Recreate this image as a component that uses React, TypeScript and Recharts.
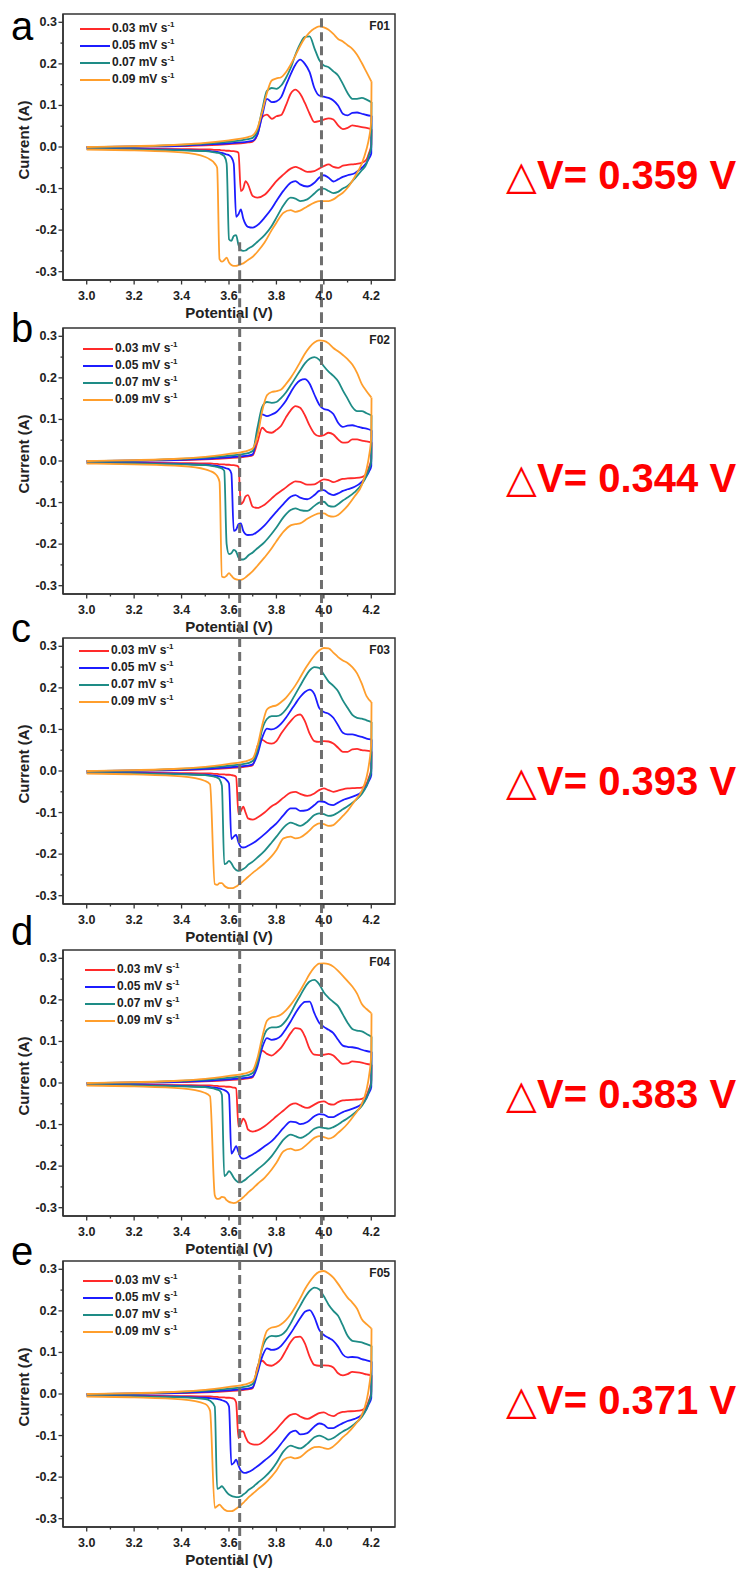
import React from 'react';
import { LineChart, Line, XAxis, YAxis, ReferenceLine, ReferenceArea } from 'recharts';

const FONT = '"Liberation Sans", Arial, sans-serif';
const AXIS = '#333';
const INK = '#222';

const RATES = ['0.03', '0.05', '0.07', '0.09'];
const COLORS = ['#ff2a2a', '#1c1cff', '#1e8c86', '#ff9e2c'];
const SAMPLES = ['F01', 'F02', 'F03', 'F04', 'F05'];
const LETTERS = ['a', 'b', 'c', 'd', 'e'];
const DELTA_V = ['0.359', '0.344', '0.393', '0.383', '0.371'];

const X_TICKS = [3.0, 3.1, 3.2, 3.3, 3.4, 3.5, 3.6, 3.7, 3.8, 3.9, 4.0, 4.1, 4.2];
const Y_TICKS = [-0.3, -0.25, -0.2, -0.15, -0.1, -0.05, 0, 0.05, 0.1, 0.15, 0.2, 0.25, 0.3];

// the two dashed guides (V)
const GUIDE_V = [3.645, 3.99];

// anodic sweep potentials, 3.0 -> 4.2 V
const ANODIC_V = [3.0, 3.2, 3.4, 3.5, 3.6, 3.65, 3.68, 3.7,
  3.72, 3.74, 3.76, 3.78, 3.8, 3.82, 3.84, 3.86, 3.88, 3.9, 3.92, 3.94, 3.96, 3.98, 4.0,
  4.02, 4.04, 4.06, 4.08, 4.1, 4.12, 4.14, 4.16, 4.18, 4.2];
// cathodic sweep potentials, stored low -> high; the last point closes the loop at 4.2 V
const CATHODIC_V = [3.0, 3.2, 3.4, 3.5,
  3.52, 3.54, 3.55, 3.56, 3.57, 3.58, 3.59, 3.6, 3.61, 3.62,
  3.63, 3.64, 3.65, 3.66, 3.67, 3.68, 3.7, 3.72, 3.75, 3.78,
  3.8, 3.83, 3.86, 3.88, 3.9, 3.93, 3.96, 3.98, 4.0, 4.02,
  4.04, 4.06, 4.08, 4.1, 4.13, 4.16, 4.18, 4.19, 4.2, 4.201];

// currents (A), one row per scan rate: 0.03 / 0.05 / 0.07 / 0.09
const F01_ANODIC = [
  [0, 0.001, 0.002, 0.004, 0.007, 0.009, 0.011, 0.013, 0.03, 0.072, 0.078, 0.068, 0.074, 0.077, 0.1, 0.128, 0.138, 0.128, 0.106, 0.08, 0.06, 0.062, 0.066, 0.069, 0.066, 0.052, 0.043, 0.046, 0.052, 0.05, 0.048, 0.046, 0.043],
  [0, 0.001, 0.003, 0.006, 0.009, 0.011, 0.013, 0.015, 0.03, 0.075, 0.116, 0.108, 0.11, 0.12, 0.148, 0.175, 0.198, 0.21, 0.2, 0.18, 0.142, 0.124, 0.121, 0.118, 0.112, 0.1, 0.08, 0.076, 0.082, 0.083, 0.08, 0.077, 0.075],
  [0, 0.001, 0.005, 0.008, 0.013, 0.016, 0.019, 0.022, 0.04, 0.09, 0.135, 0.142, 0.14, 0.148, 0.166, 0.19, 0.222, 0.248, 0.265, 0.266, 0.238, 0.21, 0.196, 0.192, 0.182, 0.172, 0.152, 0.13, 0.116, 0.116, 0.118, 0.114, 0.108],
  [0, 0.002, 0.006, 0.01, 0.016, 0.02, 0.024, 0.028, 0.045, 0.085, 0.13, 0.16, 0.165, 0.168, 0.18, 0.198, 0.22, 0.243, 0.262, 0.276, 0.285, 0.29, 0.288, 0.282, 0.272, 0.26, 0.254, 0.245, 0.236, 0.222, 0.202, 0.18, 0.158],
];
const F01_CATHODIC = [
  [-0.003, -0.004, -0.005, -0.006, -0.006, -0.007, -0.007, -0.007, -0.008, -0.008, -0.009, -0.009, -0.01, -0.01, -0.011, -0.014, -0.106, -0.1, -0.082, -0.09, -0.118, -0.122, -0.115, -0.096, -0.082, -0.066, -0.052, -0.048, -0.052, -0.06, -0.058, -0.052, -0.046, -0.042, -0.048, -0.05, -0.045, -0.043, -0.041, -0.038, -0.03, -0.015, 0.005, 0.043],
  [-0.004, -0.005, -0.007, -0.009, -0.01, -0.011, -0.012, -0.013, -0.014, -0.016, -0.018, -0.02, -0.025, -0.04, -0.168, -0.162, -0.15, -0.172, -0.186, -0.192, -0.194, -0.188, -0.17, -0.148, -0.13, -0.105, -0.086, -0.082, -0.09, -0.095, -0.086, -0.074, -0.068, -0.074, -0.083, -0.078, -0.072, -0.068, -0.063, -0.05, -0.038, -0.028, -0.015, 0.075],
  [-0.005, -0.006, -0.008, -0.01, -0.011, -0.013, -0.014, -0.015, -0.018, -0.022, -0.04, -0.222, -0.226, -0.214, -0.212, -0.236, -0.248, -0.25, -0.249, -0.245, -0.238, -0.228, -0.212, -0.19, -0.17, -0.14, -0.122, -0.124, -0.13, -0.126, -0.112, -0.102, -0.1, -0.106, -0.111, -0.108, -0.1, -0.094, -0.076, -0.056, -0.04, -0.02, 0.0, 0.108],
  [-0.006, -0.008, -0.013, -0.024, -0.03, -0.04, -0.05, -0.27, -0.276, -0.272, -0.266, -0.278, -0.284, -0.286, -0.286, -0.284, -0.282, -0.28, -0.276, -0.272, -0.264, -0.252, -0.23, -0.2, -0.182, -0.158, -0.152, -0.156, -0.153, -0.143, -0.134, -0.13, -0.13, -0.13, -0.126, -0.118, -0.11, -0.098, -0.072, -0.04, -0.005, 0.02, 0.066, 0.158],
];

const F02_ANODIC = [
  [0, 0.001, 0.002, 0.004, 0.007, 0.009, 0.011, 0.014, 0.045, 0.08, 0.07, 0.068, 0.075, 0.085, 0.105, 0.122, 0.132, 0.128, 0.11, 0.085, 0.066, 0.06, 0.062, 0.068, 0.064, 0.052, 0.044, 0.045, 0.052, 0.052, 0.049, 0.047, 0.045],
  [0, 0.001, 0.003, 0.005, 0.009, 0.011, 0.013, 0.016, 0.07, 0.112, 0.108, 0.112, 0.118, 0.13, 0.145, 0.165, 0.183, 0.194, 0.197, 0.186, 0.16, 0.136, 0.125, 0.122, 0.113, 0.092, 0.082, 0.085, 0.086, 0.083, 0.08, 0.078, 0.074],
  [0, 0.001, 0.005, 0.008, 0.013, 0.016, 0.019, 0.024, 0.08, 0.13, 0.142, 0.14, 0.142, 0.152, 0.165, 0.182, 0.2, 0.218, 0.235, 0.246, 0.25, 0.244, 0.228, 0.215, 0.205, 0.192, 0.17, 0.15, 0.13, 0.12, 0.12, 0.115, 0.11],
  [0, 0.002, 0.006, 0.01, 0.017, 0.021, 0.025, 0.03, 0.06, 0.12, 0.158, 0.166, 0.168, 0.172, 0.185, 0.2, 0.218, 0.238, 0.258, 0.274, 0.285, 0.29, 0.289, 0.283, 0.272, 0.264, 0.255, 0.245, 0.232, 0.212, 0.185, 0.168, 0.153],
];
const F02_CATHODIC = [
  [-0.003, -0.004, -0.005, -0.006, -0.006, -0.007, -0.007, -0.008, -0.008, -0.008, -0.009, -0.009, -0.01, -0.01, -0.011, -0.014, -0.104, -0.098, -0.085, -0.082, -0.11, -0.113, -0.105, -0.09, -0.08, -0.068, -0.055, -0.049, -0.05, -0.057, -0.056, -0.05, -0.044, -0.046, -0.051, -0.047, -0.043, -0.042, -0.041, -0.039, -0.03, -0.015, 0.005, 0.045],
  [-0.004, -0.005, -0.007, -0.009, -0.01, -0.011, -0.012, -0.013, -0.014, -0.016, -0.018, -0.02, -0.03, -0.168, -0.165, -0.152, -0.15, -0.168, -0.176, -0.178, -0.177, -0.17, -0.155, -0.135, -0.122, -0.103, -0.086, -0.082, -0.088, -0.092, -0.082, -0.072, -0.07, -0.078, -0.082, -0.078, -0.072, -0.068, -0.062, -0.05, -0.036, -0.026, -0.012, 0.074],
  [-0.005, -0.006, -0.008, -0.01, -0.011, -0.013, -0.014, -0.016, -0.018, -0.024, -0.2, -0.224, -0.222, -0.214, -0.218, -0.232, -0.237, -0.237, -0.234, -0.228, -0.22, -0.21, -0.195, -0.175, -0.16, -0.135, -0.118, -0.114, -0.118, -0.12, -0.108, -0.1, -0.098, -0.108, -0.11, -0.104, -0.095, -0.088, -0.075, -0.056, -0.036, -0.02, 0.0, 0.11],
  [-0.006, -0.008, -0.012, -0.02, -0.024, -0.03, -0.036, -0.05, -0.278, -0.28, -0.276, -0.27, -0.276, -0.282, -0.285, -0.286, -0.286, -0.284, -0.28, -0.275, -0.265, -0.252, -0.232, -0.21, -0.193, -0.17, -0.155, -0.152, -0.15, -0.139, -0.13, -0.126, -0.126, -0.132, -0.134, -0.13, -0.12, -0.108, -0.085, -0.058, -0.02, 0.01, 0.06, 0.153],
];

const F03_ANODIC = [
  [0, 0.001, 0.002, 0.004, 0.007, 0.009, 0.011, 0.014, 0.06, 0.075, 0.068, 0.066, 0.072, 0.09, 0.106, 0.12, 0.132, 0.136, 0.12, 0.09, 0.072, 0.07, 0.072, 0.071, 0.066, 0.056, 0.046, 0.046, 0.052, 0.053, 0.05, 0.049, 0.047],
  [0, 0.001, 0.003, 0.005, 0.009, 0.011, 0.013, 0.016, 0.04, 0.08, 0.102, 0.1, 0.104, 0.114, 0.128, 0.145, 0.162, 0.178, 0.19, 0.196, 0.185, 0.152, 0.142, 0.138, 0.128, 0.11, 0.092, 0.088, 0.088, 0.085, 0.082, 0.078, 0.076],
  [0, 0.001, 0.005, 0.008, 0.013, 0.016, 0.019, 0.024, 0.05, 0.1, 0.125, 0.132, 0.132, 0.136, 0.148, 0.165, 0.185, 0.205, 0.225, 0.242, 0.25, 0.248, 0.232, 0.215, 0.205, 0.192, 0.17, 0.152, 0.135, 0.128, 0.126, 0.122, 0.118],
  [0, 0.002, 0.006, 0.01, 0.017, 0.021, 0.025, 0.03, 0.06, 0.11, 0.148, 0.155, 0.158, 0.166, 0.176, 0.19, 0.206, 0.225, 0.245, 0.262, 0.278, 0.29, 0.296, 0.295, 0.285, 0.274, 0.266, 0.26, 0.25, 0.235, 0.21, 0.18, 0.166],
];
const F03_CATHODIC = [
  [-0.003, -0.004, -0.005, -0.006, -0.006, -0.007, -0.007, -0.008, -0.008, -0.008, -0.009, -0.009, -0.01, -0.011, -0.014, -0.104, -0.096, -0.086, -0.1, -0.114, -0.117, -0.112, -0.1, -0.085, -0.078, -0.064, -0.052, -0.05, -0.055, -0.06, -0.054, -0.046, -0.042, -0.046, -0.05, -0.047, -0.044, -0.042, -0.041, -0.04, -0.03, -0.015, 0.005, 0.047],
  [-0.004, -0.005, -0.007, -0.009, -0.01, -0.011, -0.012, -0.013, -0.015, -0.017, -0.022, -0.03, -0.164, -0.158, -0.154, -0.172, -0.182, -0.184, -0.183, -0.18, -0.174, -0.166, -0.152, -0.136, -0.126, -0.106, -0.09, -0.09, -0.096, -0.094, -0.082, -0.073, -0.074, -0.08, -0.082, -0.076, -0.07, -0.066, -0.06, -0.05, -0.036, -0.024, -0.01, 0.076],
  [-0.005, -0.006, -0.008, -0.01, -0.012, -0.014, -0.016, -0.02, -0.035, -0.224, -0.222, -0.216, -0.222, -0.232, -0.238, -0.24, -0.239, -0.236, -0.232, -0.226, -0.218, -0.208, -0.192, -0.172, -0.158, -0.136, -0.124, -0.128, -0.132, -0.122, -0.106, -0.102, -0.104, -0.108, -0.106, -0.1, -0.092, -0.085, -0.072, -0.055, -0.036, -0.02, 0.0, 0.118],
  [-0.006, -0.008, -0.013, -0.024, -0.032, -0.272, -0.274, -0.27, -0.27, -0.276, -0.28, -0.282, -0.282, -0.281, -0.278, -0.274, -0.27, -0.265, -0.26, -0.255, -0.245, -0.236, -0.222, -0.205, -0.19, -0.162, -0.158, -0.162, -0.16, -0.148, -0.132, -0.126, -0.128, -0.132, -0.13, -0.12, -0.108, -0.096, -0.072, -0.048, -0.015, 0.015, 0.07, 0.166],
];

const F04_ANODIC = [
  [0, 0.001, 0.002, 0.004, 0.007, 0.009, 0.011, 0.014, 0.055, 0.078, 0.07, 0.066, 0.074, 0.085, 0.102, 0.12, 0.132, 0.13, 0.112, 0.082, 0.068, 0.067, 0.068, 0.07, 0.066, 0.055, 0.046, 0.047, 0.052, 0.051, 0.049, 0.046, 0.044],
  [0, 0.001, 0.003, 0.005, 0.009, 0.011, 0.013, 0.016, 0.04, 0.085, 0.108, 0.104, 0.106, 0.114, 0.13, 0.148, 0.168, 0.185, 0.195, 0.196, 0.168, 0.145, 0.135, 0.128, 0.12, 0.104, 0.09, 0.087, 0.086, 0.084, 0.08, 0.077, 0.075],
  [0, 0.001, 0.005, 0.008, 0.013, 0.016, 0.019, 0.024, 0.05, 0.1, 0.128, 0.134, 0.134, 0.138, 0.15, 0.168, 0.19, 0.21, 0.23, 0.244, 0.248, 0.238, 0.218, 0.205, 0.195, 0.185, 0.165, 0.145, 0.13, 0.126, 0.124, 0.118, 0.112],
  [0, 0.002, 0.006, 0.01, 0.017, 0.021, 0.025, 0.03, 0.06, 0.11, 0.15, 0.158, 0.16, 0.165, 0.175, 0.188, 0.204, 0.222, 0.242, 0.262, 0.278, 0.287, 0.288, 0.286, 0.28, 0.27, 0.258, 0.245, 0.232, 0.215, 0.19, 0.178, 0.168],
];
const F04_CATHODIC = [
  [-0.003, -0.004, -0.005, -0.006, -0.006, -0.007, -0.007, -0.008, -0.008, -0.008, -0.009, -0.009, -0.01, -0.011, -0.013, -0.105, -0.098, -0.086, -0.094, -0.112, -0.117, -0.114, -0.104, -0.09, -0.08, -0.066, -0.052, -0.049, -0.054, -0.06, -0.052, -0.046, -0.044, -0.05, -0.052, -0.046, -0.042, -0.041, -0.04, -0.038, -0.03, -0.015, 0.005, 0.044],
  [-0.004, -0.005, -0.007, -0.009, -0.01, -0.011, -0.012, -0.013, -0.015, -0.017, -0.02, -0.028, -0.17, -0.162, -0.152, -0.166, -0.18, -0.182, -0.181, -0.178, -0.172, -0.165, -0.152, -0.14, -0.128, -0.108, -0.093, -0.094, -0.099, -0.094, -0.08, -0.075, -0.076, -0.082, -0.082, -0.076, -0.07, -0.066, -0.06, -0.05, -0.036, -0.024, -0.01, 0.075],
  [-0.005, -0.006, -0.008, -0.01, -0.012, -0.014, -0.016, -0.018, -0.028, -0.224, -0.22, -0.212, -0.218, -0.228, -0.235, -0.239, -0.239, -0.236, -0.232, -0.227, -0.218, -0.208, -0.194, -0.176, -0.16, -0.136, -0.124, -0.128, -0.132, -0.124, -0.11, -0.106, -0.108, -0.11, -0.106, -0.1, -0.092, -0.085, -0.072, -0.055, -0.036, -0.02, 0.0, 0.112],
  [-0.006, -0.008, -0.013, -0.024, -0.032, -0.27, -0.279, -0.278, -0.274, -0.275, -0.282, -0.286, -0.288, -0.289, -0.288, -0.284, -0.28, -0.275, -0.27, -0.264, -0.254, -0.243, -0.228, -0.208, -0.192, -0.164, -0.158, -0.162, -0.16, -0.147, -0.132, -0.128, -0.13, -0.134, -0.13, -0.12, -0.11, -0.098, -0.076, -0.05, -0.016, 0.015, 0.07, 0.168],
];

const F05_ANODIC = [
  [0, 0.001, 0.002, 0.004, 0.007, 0.009, 0.011, 0.014, 0.065, 0.08, 0.07, 0.068, 0.074, 0.085, 0.105, 0.125, 0.137, 0.138, 0.122, 0.09, 0.07, 0.068, 0.069, 0.068, 0.064, 0.05, 0.045, 0.048, 0.053, 0.052, 0.05, 0.047, 0.045],
  [0, 0.001, 0.003, 0.005, 0.009, 0.011, 0.013, 0.016, 0.05, 0.09, 0.11, 0.106, 0.108, 0.116, 0.13, 0.146, 0.164, 0.182, 0.198, 0.202, 0.185, 0.155, 0.142, 0.135, 0.128, 0.114, 0.095, 0.088, 0.089, 0.088, 0.084, 0.081, 0.078],
  [0, 0.001, 0.005, 0.008, 0.013, 0.016, 0.019, 0.024, 0.06, 0.11, 0.134, 0.14, 0.139, 0.142, 0.152, 0.17, 0.192, 0.212, 0.232, 0.248, 0.256, 0.252, 0.235, 0.215, 0.2, 0.188, 0.165, 0.14, 0.128, 0.126, 0.124, 0.12, 0.116],
  [0, 0.002, 0.006, 0.01, 0.017, 0.021, 0.025, 0.03, 0.06, 0.115, 0.152, 0.16, 0.162, 0.168, 0.178, 0.192, 0.21, 0.23, 0.252, 0.27, 0.285, 0.294, 0.296, 0.29, 0.28, 0.265, 0.248, 0.232, 0.22, 0.205, 0.18, 0.168, 0.158],
];
const F05_CATHODIC = [
  [-0.003, -0.004, -0.005, -0.006, -0.006, -0.007, -0.007, -0.008, -0.008, -0.008, -0.009, -0.009, -0.01, -0.011, -0.02, -0.106, -0.09, -0.09, -0.104, -0.115, -0.121, -0.122, -0.112, -0.096, -0.085, -0.065, -0.05, -0.048, -0.054, -0.06, -0.052, -0.046, -0.044, -0.05, -0.053, -0.047, -0.043, -0.042, -0.041, -0.039, -0.03, -0.015, 0.005, 0.045],
  [-0.004, -0.005, -0.007, -0.009, -0.01, -0.011, -0.012, -0.013, -0.015, -0.017, -0.02, -0.03, -0.17, -0.166, -0.158, -0.172, -0.184, -0.189, -0.19, -0.188, -0.182, -0.174, -0.16, -0.146, -0.134, -0.112, -0.092, -0.088, -0.097, -0.094, -0.078, -0.071, -0.074, -0.082, -0.082, -0.076, -0.07, -0.065, -0.06, -0.05, -0.036, -0.024, -0.01, 0.078],
  [-0.005, -0.006, -0.008, -0.012, -0.016, -0.03, -0.228, -0.226, -0.222, -0.228, -0.236, -0.242, -0.245, -0.247, -0.248, -0.248, -0.246, -0.242, -0.238, -0.232, -0.224, -0.214, -0.2, -0.182, -0.166, -0.138, -0.124, -0.128, -0.131, -0.12, -0.104, -0.1, -0.104, -0.11, -0.106, -0.098, -0.09, -0.084, -0.072, -0.055, -0.036, -0.02, 0.0, 0.116],
  [-0.006, -0.008, -0.013, -0.024, -0.04, -0.274, -0.27, -0.266, -0.272, -0.278, -0.281, -0.282, -0.282, -0.28, -0.276, -0.272, -0.267, -0.262, -0.256, -0.25, -0.24, -0.23, -0.216, -0.198, -0.184, -0.158, -0.152, -0.155, -0.152, -0.138, -0.128, -0.127, -0.13, -0.132, -0.126, -0.116, -0.104, -0.094, -0.075, -0.05, -0.016, 0.015, 0.07, 0.158],
];

const ANODIC = [F01_ANODIC, F02_ANODIC, F03_ANODIC, F04_ANODIC, F05_ANODIC];
const CATHODIC = [F01_CATHODIC, F02_CATHODIC, F03_CATHODIC, F04_CATHODIC, F05_CATHODIC];

// where the dashed guides stop inside a panel (A); null = runs to the panel edge
const GUIDE_FROM = [[-0.229, 0.31], [null, null], [null, null], [null, null], [null, null]];
const GUIDE_TO = [[null, null], [null, null], [null, null], [null, null], [null, 0.058]];

// layout
const PANEL_TOP = [0, 314, 624, 936, 1247];
const PANEL_H = [314, 310, 312, 311, 322];
const PLOT_TOP = 14;
const PLOT_H = 266;
const CHART_W = 400;
const LEGEND_POS = [[15, 80], [21, 83], [13, 79], [20, 85], [20, 83]];
const LETTER_BASE = [40, 342, 642, 945, 1265];
const DV_CENTER = [174, 477, 780, 1093, 1399];

const branch = (vs: number[], is: number[]) => vs.map((v, k) => ({ v, i: is[k] }));

const XTick = (p: any) => {
  const { x, y, payload } = p;
  const major = Math.round(payload.value * 10) % 2 === 0;
  return (
    <g>
      <line x1={x} x2={x} y1={y} y2={y + (major ? 4.5 : 2.5)} stroke={AXIS} strokeWidth={1.3} />
      {major && (
        <text x={x} y={y + 20} textAnchor="middle" fontSize={12.5} fontWeight="bold" fill={INK} fontFamily={FONT}>
          {payload.value.toFixed(1)}
        </text>
      )}
    </g>
  );
};

const YTick = (p: any) => {
  const { x, y, payload } = p;
  const major = Math.round(payload.value * 100) % 10 === 0;
  return (
    <g>
      <line x1={x} x2={x - (major ? 4.5 : 2.5)} y1={y} y2={y} stroke={AXIS} strokeWidth={1.3} />
      {major && (
        <text x={x - 6} y={y + 4} textAnchor="end" fontSize={12.5} fontWeight="bold" fill={INK} fontFamily={FONT}>
          {payload.value.toFixed(1)}
        </text>
      )}
    </g>
  );
};

const xTitle = (p: any) => {
  const vb = p.viewBox;
  return (
    <text x={vb.x + vb.width / 2} y={vb.y + 38} textAnchor="middle" fontSize={15} fontWeight="bold" fill={INK} fontFamily={FONT}>
      Potential (V)
    </text>
  );
};

const yTitle = (p: any) => {
  const vb = p.viewBox;
  const cx = vb.x + 10.5;
  const cy = vb.y + vb.height / 2 - 7;
  return (
    <text x={cx} y={cy + 5.3} transform={`rotate(-90, ${cx}, ${cy})`} textAnchor="middle" fontSize={15} fontWeight="bold" fill={INK} fontFamily={FONT}>
      Current (A)
    </text>
  );
};

function Panel({ idx }: { idx: number }) {
  const h = PANEL_H[idx];
  const perPx = 0.64 / PLOT_H;
  const yTop = 0.32 + PLOT_TOP * perPx;
  const yBot = -0.32 - (h - PLOT_TOP - PLOT_H) * perPx;
  const up = ANODIC[idx];
  const dn = CATHODIC[idx];

  return (
    <div style={{ position: 'absolute', left: 0, top: PANEL_TOP[idx], width: CHART_W, height: h }}>
      <LineChart width={CHART_W} height={h} margin={{ top: PLOT_TOP, right: 5, bottom: 0, left: 13 }}>
        <XAxis
          dataKey="v"
          type="number"
          domain={[2.9, 4.3]}
          ticks={X_TICKS}
          interval={0}
          tick={XTick}
          tickLine={false}
          tickSize={0}
          tickMargin={0}
          height={h - PLOT_TOP - PLOT_H}
          axisLine={{ stroke: AXIS, strokeWidth: 1.5 }}
          label={{ content: xTitle }}
        />
        <YAxis
          type="number"
          domain={[-0.32, 0.32]}
          ticks={Y_TICKS}
          interval={0}
          tick={YTick}
          tickLine={false}
          tickSize={0}
          tickMargin={0}
          width={50}
          axisLine={{ stroke: AXIS, strokeWidth: 1.5 }}
          label={{ content: yTitle }}
        />
        <ReferenceArea x1={2.9} x2={4.3} y1={-0.32} y2={0.32} fill="none" stroke={AXIS} strokeWidth={1.5} ifOverflow="visible" />
        {RATES.map((r, s) => [
          <Line key={`u${s}`} data={branch(ANODIC_V, up[s])} dataKey="i" name={r} type="monotoneX" stroke={COLORS[s]} strokeWidth={1.8} dot={false} activeDot={false} isAnimationActive={false} />,
          <Line key={`d${s}`} data={branch(CATHODIC_V, dn[s])} dataKey="i" name={`${r} back`} legendType="none" type="monotoneX" stroke={COLORS[s]} strokeWidth={1.8} dot={false} activeDot={false} isAnimationActive={false} />,
        ])}
        {GUIDE_V.map((v, g) => (
          <ReferenceLine
            key={`g${g}`}
            ifOverflow="visible"
            segment={[
              { x: v, y: GUIDE_FROM[idx][g] ?? yTop },
              { x: v, y: GUIDE_TO[idx][g] ?? yBot },
            ]}
            stroke="#6f6f6f"
            strokeWidth={3}
            strokeDasharray="9 5"
          />
        ))}
      </LineChart>
    </div>
  );
}

function LegendBox({ idx }: { idx: number }) {
  const [dy, left] = LEGEND_POS[idx];
  return (
    <div style={{ position: 'absolute', left, top: PANEL_TOP[idx] + PLOT_TOP + dy - 8.5, fontFamily: FONT, fontWeight: 'bold', fontSize: 12, color: INK }}>
      {RATES.map((r, s) => (
        <div key={r} style={{ height: 17, lineHeight: '17px', whiteSpace: 'nowrap', display: 'flex', alignItems: 'center' }}>
          <span style={{ display: 'inline-block', width: 30, height: 2, background: COLORS[s], marginRight: 2 }} />
          <span>
            {r} mV s<span style={{ fontSize: 8, position: 'relative', top: -5 }}>-1</span>
          </span>
        </div>
      ))}
    </div>
  );
}

export default function App() {
  return (
    <div style={{ position: 'absolute', left: 0, top: 0, width: 742, height: 1569, overflow: 'hidden', background: '#fff' }}>
      <style>{'.recharts-surface{overflow:visible !important}'}</style>
      {SAMPLES.map((name, idx) => (
        <React.Fragment key={name}>
          <Panel idx={idx} />
          <LegendBox idx={idx} />
          <div style={{ position: 'absolute', right: 742 - 390, top: PANEL_TOP[idx] + PLOT_TOP + 4.8, fontFamily: FONT, fontWeight: 'bold', fontSize: 12, lineHeight: '14px', color: INK }}>
            {name}
          </div>
          <div style={{ position: 'absolute', left: 11, top: LETTER_BASE[idx] - 33.9, fontFamily: FONT, fontSize: 40, lineHeight: '40px', color: '#000' }}>
            {LETTERS[idx]}
          </div>
          <div style={{ position: 'absolute', left: 506, top: DV_CENTER[idx] - 19.5, fontFamily: FONT, fontWeight: 'bold', fontSize: 40, lineHeight: '40px', color: '#ff0000', whiteSpace: 'nowrap' }}>
            <span style={{ fontWeight: 'normal' }}>△</span>V= {DELTA_V[idx]} V
          </div>
        </React.Fragment>
      ))}
    </div>
  );
}
